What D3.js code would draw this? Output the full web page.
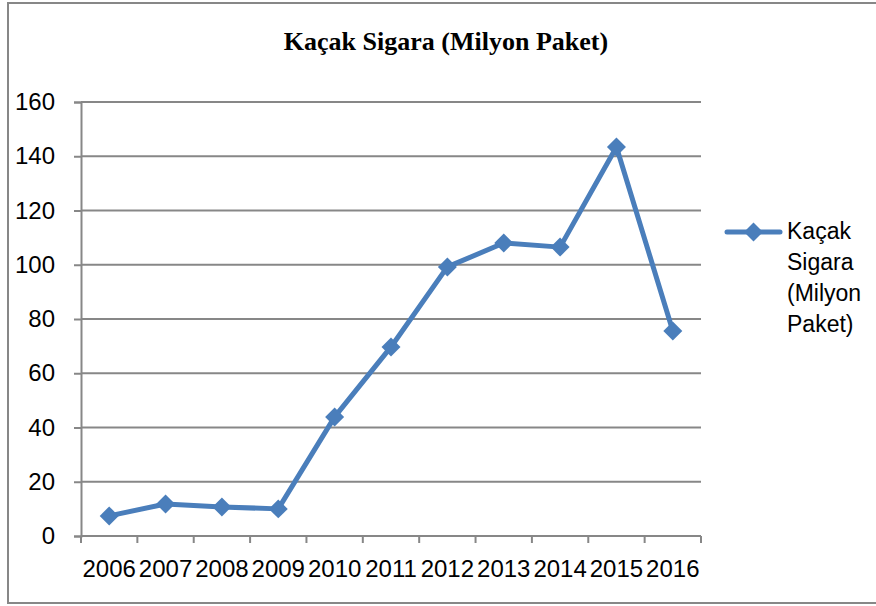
<!DOCTYPE html>
<html>
<head>
<meta charset="utf-8">
<script src="https://cdn.jsdelivr.net/npm/d3@7"></script>
<style>
  body { margin: 0; background: #fff; }
  svg { display: block; }
</style>
</head>
<body>
<div id="chart"></div>
<script>
// data
var years = ["2006", "2007", "2008", "2009", "2010", "2011", "2012", "2013", "2014", "2015", "2016"];
var values = [7.4, 11.8, 10.7, 10.0, 43.9, 69.7, 99.2, 108.0, 106.5, 143.4, 75.6];
var yTicks = [0, 20, 40, 60, 80, 100, 120, 140, 160];
var seriesName = "Kaçak Sigara (Milyon Paket)";
var title = "Kaçak Sigara (Milyon Paket)";

var width = 876, height = 606;
var margin = {top: 102, right: 175, bottom: 70, left: 81};
var blue = "#4a7ebb", grey = "#878787";
var tickFont = "'Liberation Sans', Arial, sans-serif";

var svg = d3.select("#chart").append("svg")
    .attr("width", width)
    .attr("height", height);

// outer frame (right edge sits off the picture)
svg.append("rect")
    .attr("x", 8).attr("y", 3)
    .attr("width", 880).attr("height", 600)
    .attr("fill", "#fff")
    .attr("stroke", grey)
    .attr("stroke-width", 2);

svg.append("text")
    .attr("x", 446).attr("y", 50)
    .attr("text-anchor", "middle")
    .style("font-family", "'Liberation Serif', 'Times New Roman', serif")
    .style("font-weight", "bold")
    .style("font-size", "26px")
    .text(title);

var x = d3.scaleBand()
    .domain(years)
    .range([margin.left, width - margin.right])
    .padding(0);

var y = d3.scaleLinear()
    .domain([0, 160])
    .range([height - margin.bottom, margin.top]);

// gridlines
svg.append("g")
    .selectAll("line")
    .data(yTicks.slice(1))
    .join("line")
    .attr("x1", x.range()[0]).attr("x2", x.range()[1])
    .attr("y1", function(d) { return y(d); })
    .attr("y2", function(d) { return y(d); })
    .attr("stroke", grey)
    .attr("stroke-width", 2);

// y axis
var yAxis = svg.append("g")
    .attr("transform", "translate(" + margin.left + ",0)")
    .call(d3.axisLeft(y).tickValues(yTicks).tickSize(7).tickPadding(19));
yAxis.select(".domain").attr("stroke", grey).attr("stroke-width", 2);
yAxis.selectAll(".tick line").attr("stroke", grey).attr("stroke-width", 2);
yAxis.selectAll(".tick text")
    .attr("fill", "#000")
    .style("font-family", tickFont)
    .style("font-size", "24px");

// x axis: ticks sit between categories
var xAxisG = svg.append("g")
    .attr("transform", "translate(0," + y(0) + ")");
xAxisG.append("line")
    .attr("x1", x.range()[0]).attr("x2", x.range()[1])
    .attr("stroke", grey).attr("stroke-width", 2);
var bounds = years.map(function(d) { return x(d); }).concat([x.range()[1]]);
xAxisG.selectAll("line.tk")
    .data(bounds)
    .join("line")
    .attr("class", "tk")
    .attr("x1", function(d) { return d; })
    .attr("x2", function(d) { return d; })
    .attr("y1", 0).attr("y2", 7)
    .attr("stroke", grey).attr("stroke-width", 2);
xAxisG.selectAll("text")
    .data(years)
    .join("text")
    .attr("x", function(d) { return x(d) + x.bandwidth() / 2; })
    .attr("y", 41)
    .attr("text-anchor", "middle")
    .style("font-family", tickFont)
    .style("font-size", "24px")
    .text(function(d) { return d; });

// series line
var line = d3.line()
    .x(function(d, i) { return x(years[i]) + x.bandwidth() / 2; })
    .y(function(d) { return y(d); });

svg.append("path")
    .datum(values)
    .attr("d", line)
    .attr("fill", "none")
    .attr("stroke", blue)
    .attr("stroke-width", 5)
    .attr("stroke-linejoin", "round");

var diamond = d3.symbol().type(d3.symbolDiamond2).size(230);

svg.selectAll("path.mark")
    .data(values)
    .join("path")
    .attr("class", "mark")
    .attr("d", diamond)
    .attr("transform", function(d, i) {
        return "translate(" + (x(years[i]) + x.bandwidth() / 2) + "," + y(d) + ")";
    })
    .attr("fill", blue);

// legend
var lg = svg.append("g").attr("transform", "translate(727,232)");
lg.append("line")
    .attr("x1", 0).attr("x2", 53)
    .attr("stroke", blue).attr("stroke-width", 5)
    .attr("stroke-linecap", "round");
lg.append("path")
    .attr("d", diamond)
    .attr("transform", "translate(26.5,0)")
    .attr("fill", blue);

var legendLines = ["Kaçak", "Sigara", "(Milyon", "Paket)"];
lg.append("text")
    .attr("x", 60).attr("y", 7)
    .style("font-family", tickFont)
    .style("font-size", "23px")
    .selectAll("tspan")
    .data(legendLines)
    .join("tspan")
    .attr("x", 60)
    .attr("dy", function(d, i) { return i === 0 ? 0 : 31; })
    .text(function(d) { return d; });
</script>
</body>
</html>
